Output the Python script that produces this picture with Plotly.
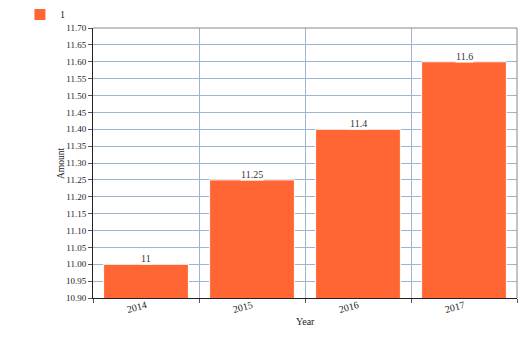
import plotly.graph_objects as go

years = ["2014", "2015", "2016", "2017"]
amounts = [11.0, 11.25, 11.4, 11.6]
labels = ["11", "11.25", "11.4", "11.6"]
series_name = "1"
x_title = "Year"
y_title = "Amount"

bar_color = "#ff6633"
grid_color = "#9fb4cf"
font_family = "Liberation Serif, Times New Roman, serif"

pos = list(range(len(years)))
bounds = [p - 0.5 for p in pos] + [pos[-1] + 0.5]

fig = go.Figure()
fig.add_trace(go.Bar(
    x=pos, y=amounts, name=series_name,
    marker=dict(color=bar_color, line=dict(color="white", width=1)),
    width=0.8, showlegend=True,
))

for x, y, t in zip(pos, amounts, labels):
    fig.add_annotation(x=x, y=y, xref="x", yref="y", text=t, showarrow=False,
                       yanchor="bottom", yshift=-1, bgcolor="white", borderpad=0,
                       font=dict(family=font_family, size=10, color="#333"))

# axis titles
fig.add_annotation(x=0.5, y=0, xref="paper", yref="paper", text=x_title,
                   showarrow=False, xanchor="center", yanchor="middle",
                   yshift=-23, font=dict(family=font_family, size=10, color="#222"))
fig.add_annotation(x=0, y=0.5, xref="paper", yref="paper", text=y_title,
                   showarrow=False, xanchor="center", yanchor="middle",
                   xshift=-32, textangle=-90,
                   font=dict(family=font_family, size=9.5, color="#222"))

fig.update_layout(
    width=525, height=350,
    margin=dict(l=93, r=8, t=28, b=52, autoexpand=False),
    plot_bgcolor="white", paper_bgcolor="white",
    font=dict(family=font_family, size=10, color="#222"),
    showlegend=True,
    legend=dict(xref="container", yref="container", x=0.038, y=1.031,
                xanchor="left", yanchor="top", font=dict(size=10),
                itemwidth=30, bgcolor="rgba(0,0,0,0)"),
    xaxis=dict(
        type="linear", range=[bounds[0], bounds[-1]], automargin=False,
        tickmode="array", tickvals=pos, ticktext=years,
        showgrid=False, ticks="", ticklabelstandoff=-3,
        minor=dict(tickmode="array", tickvals=bounds, showgrid=True,
                   gridcolor=grid_color, gridwidth=1, ticks="outside",
                   ticklen=4, tickcolor="#555"),
        showline=True, linecolor="#222", linewidth=1,
        tickangle=-15, tickfont=dict(size=10), zeroline=False,
    ),
    yaxis=dict(
        range=[10.9, 11.7], dtick=0.05, tick0=10.9, tickformat=".2f",
        automargin=False,
        showgrid=True, gridcolor=grid_color, gridwidth=1,
        showline=True, linecolor="#222", linewidth=1,
        ticks="outside", ticklen=4, tickcolor="#555",
        tickfont=dict(size=9), zeroline=False,
    ),
)
fig.add_shape(type="line", xref="paper", yref="paper", x0=1, x1=1, y0=0, y1=1,
              line=dict(color="#888", width=1))
fig.add_shape(type="line", xref="paper", yref="paper", x0=0, x1=1, y0=1, y1=1,
              line=dict(color="#888", width=1))

fig.write_html("out.html")
